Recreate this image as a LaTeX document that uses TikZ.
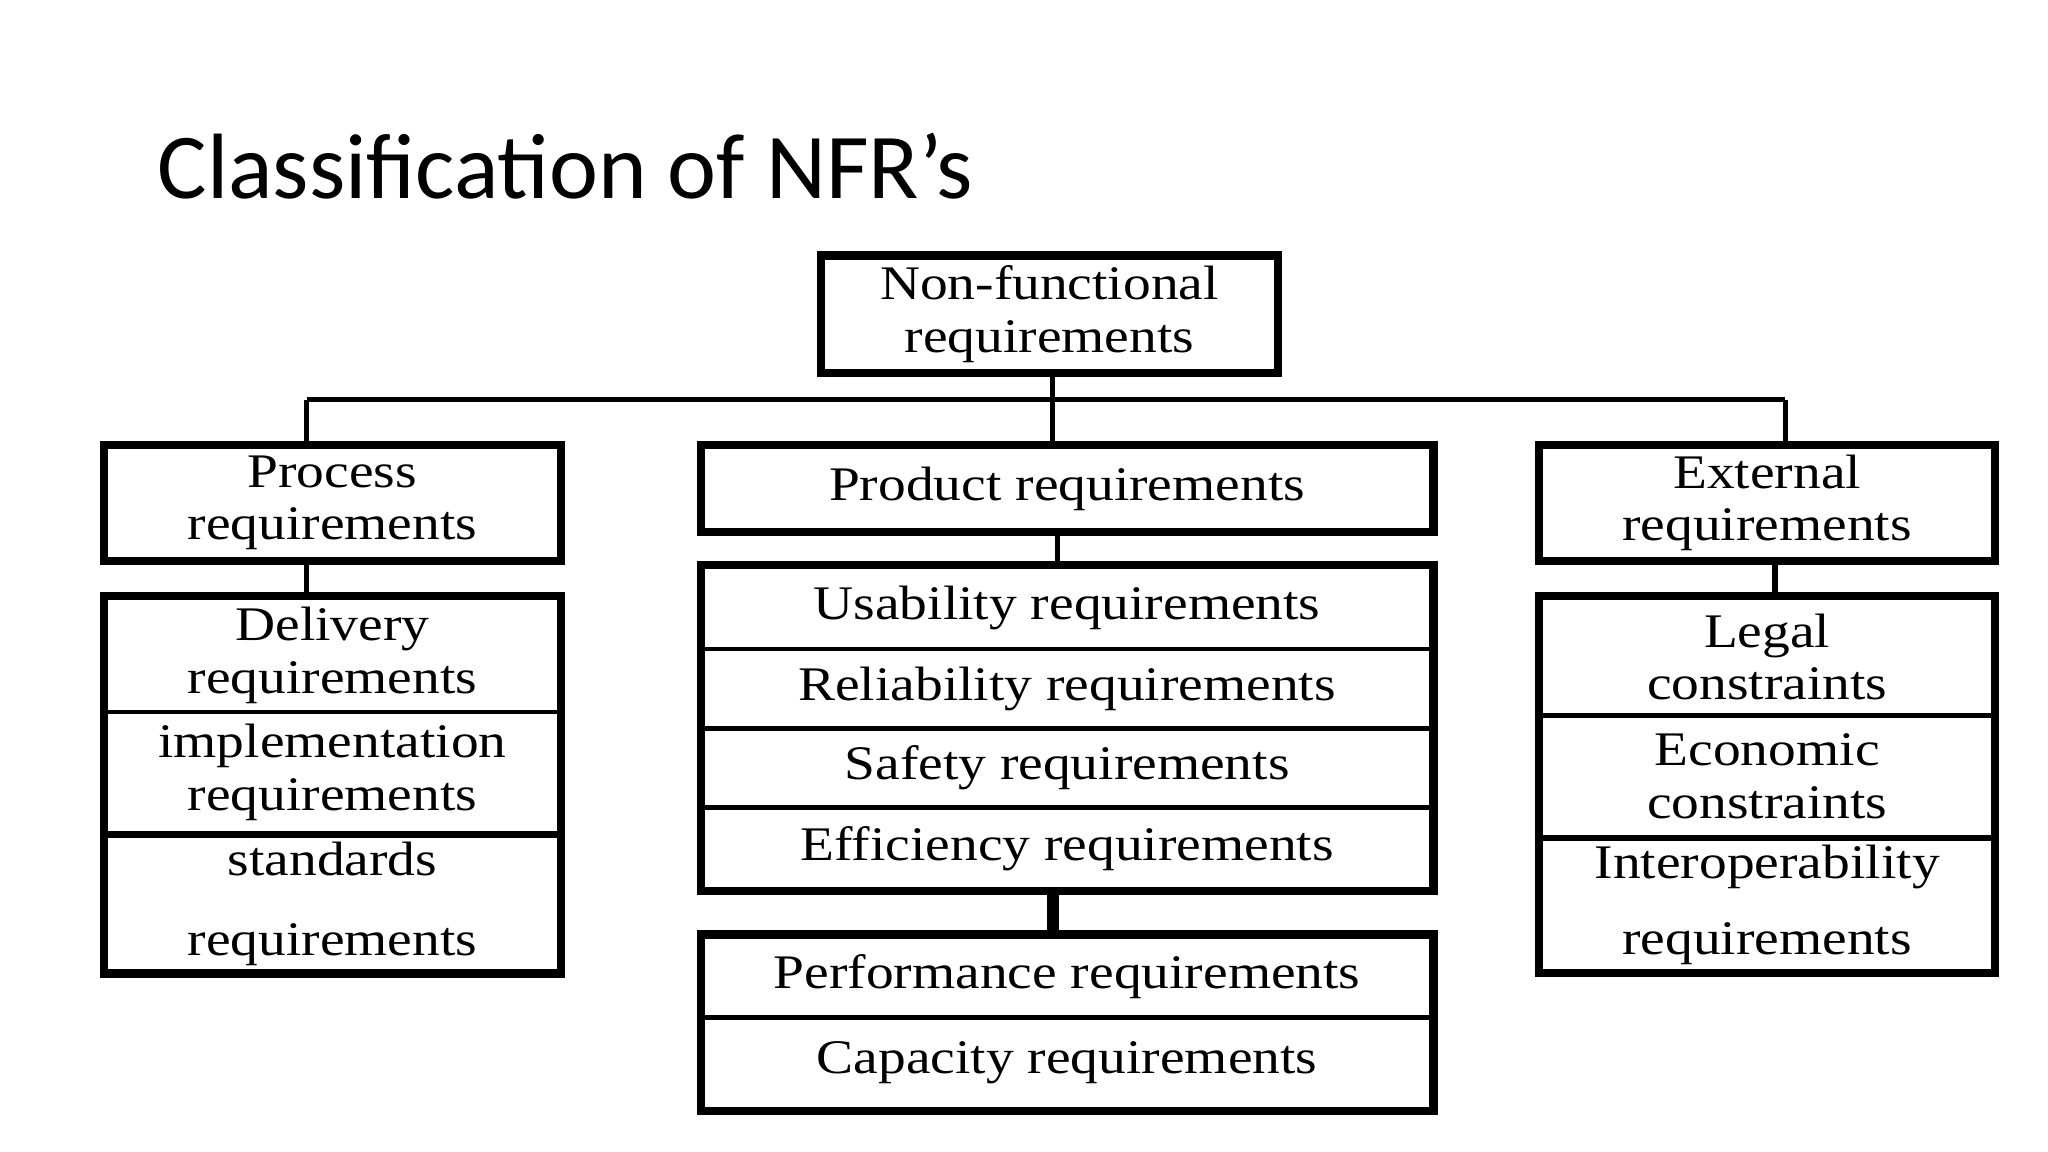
\documentclass[tikz,border=0pt]{standalone}
\usepackage{fontspec}
\setmainfont{Liberation Serif}[FakeStretch=1.15]
\newfontfamily\titlefont{Carlito}
\begin{document}
\begin{tikzpicture}[x=0.01cm,y=-0.01cm,
  cell/.style={draw,line width=1pt,inner sep=0pt,align=center,font=\fontsize{10.5}{11.5}\selectfont},
  frame/.style={line width=1.6pt},
  link/.style={line width=1.1pt}]
\useasboundingbox (0,0) rectangle (1568,882);
\node[anchor=base west,inner sep=0pt,font=\titlefont\fontsize{20.2}{24}\selectfont] (title) at (120,152) {Classification of NFR’s};
% root
\node[cell,minimum width=3.47cm,minimum height=0.87cm] (root) at (803.5,240.5) {Non-functional\\requirements};
\draw[frame] (root.north west) rectangle (root.south east);
% level 1
\node[cell,minimum width=3.47cm,minimum height=0.86cm] (proc) at (254.5,385) {Process\\requirements};
\node[cell,minimum width=5.58cm,minimum height=0.64cm] (prod) at (817,374) {Product requirements};
\node[cell,minimum width=3.46cm,minimum height=0.86cm] (ext) at (1353,385) {External\\requirements};
\foreach \n in {proc,prod,ext} \draw[frame] (\n.north west) rectangle (\n.south east);
\coordinate (j) at (806,306);
\coordinate (jl) at (235,306);
\coordinate (jr) at (1367,306);
\draw[link] (root.south -| j) -- (j);
\draw[link] (jl) -- (jr);
\draw[link] (jl) -- (jl |- proc.north);
\draw[link] (j) -- (j |- prod.north);
\draw[link] (jr) -- (jr |- ext.north);
% process stack
\node[cell,minimum width=3.47cm,minimum height=0.87cm] (d1) at (254.5,501.5) {Delivery\\requirements};
\node[cell,minimum width=3.47cm,minimum height=0.93cm] (d2) at (254.5,591.5) {implementation\\requirements};
\node[cell,minimum width=3.47cm,minimum height=1.04cm] (d3) at (254.5,692) {standards\\[6pt]requirements};
\draw[frame] (d1.north west) rectangle (d3.south east);
\draw[link] (proc.south -| jl) -- (d1.north -| jl);
% product stack
\node[cell,minimum width=5.58cm,minimum height=0.63cm] (p1) at (817,465.5) {Usability requirements};
\node[cell,minimum width=5.58cm,minimum height=0.61cm] (p2) at (817,527.5) {Reliability requirements};
\node[cell,minimum width=5.58cm,minimum height=0.60cm] (p3) at (817,588) {Safety requirements};
\node[cell,minimum width=5.58cm,minimum height=0.63cm] (p4) at (817,649.5) {Efficiency requirements};
\draw[frame] (p1.north west) rectangle (p4.south east);
\coordinate (pc) at (810,406);
\draw[link] (prod.south -| pc) -- (p1.north -| pc);
\node[cell,minimum width=5.58cm,minimum height=0.62cm] (q1) at (817,748) {Performance requirements};
\node[cell,minimum width=5.58cm,minimum height=0.70cm] (q2) at (817,814) {Capacity requirements};
\draw[frame] (q1.north west) rectangle (q2.south east);
\coordinate (qc) at (806,681);
\draw[line width=2.6pt] (p4.south -| qc) -- (q1.north -| qc);
% external stack
\node[cell,minimum width=3.46cm,minimum height=0.90cm] (e1) at (1353,503) {Legal\\constraints};
\node[cell,minimum width=3.46cm,minimum height=0.93cm] (e2) at (1353,594.5) {Economic\\constraints};
\node[cell,minimum width=3.46cm,minimum height=1.01cm] (e3) at (1353,693) {Interoperability\\[5pt]requirements};
\draw[frame] (e1.north west) rectangle (e3.south east);
\coordinate (ec) at (1359,428);
\draw[link] (ext.south -| ec) -- (e1.north -| ec);
\end{tikzpicture}
\end{document}
